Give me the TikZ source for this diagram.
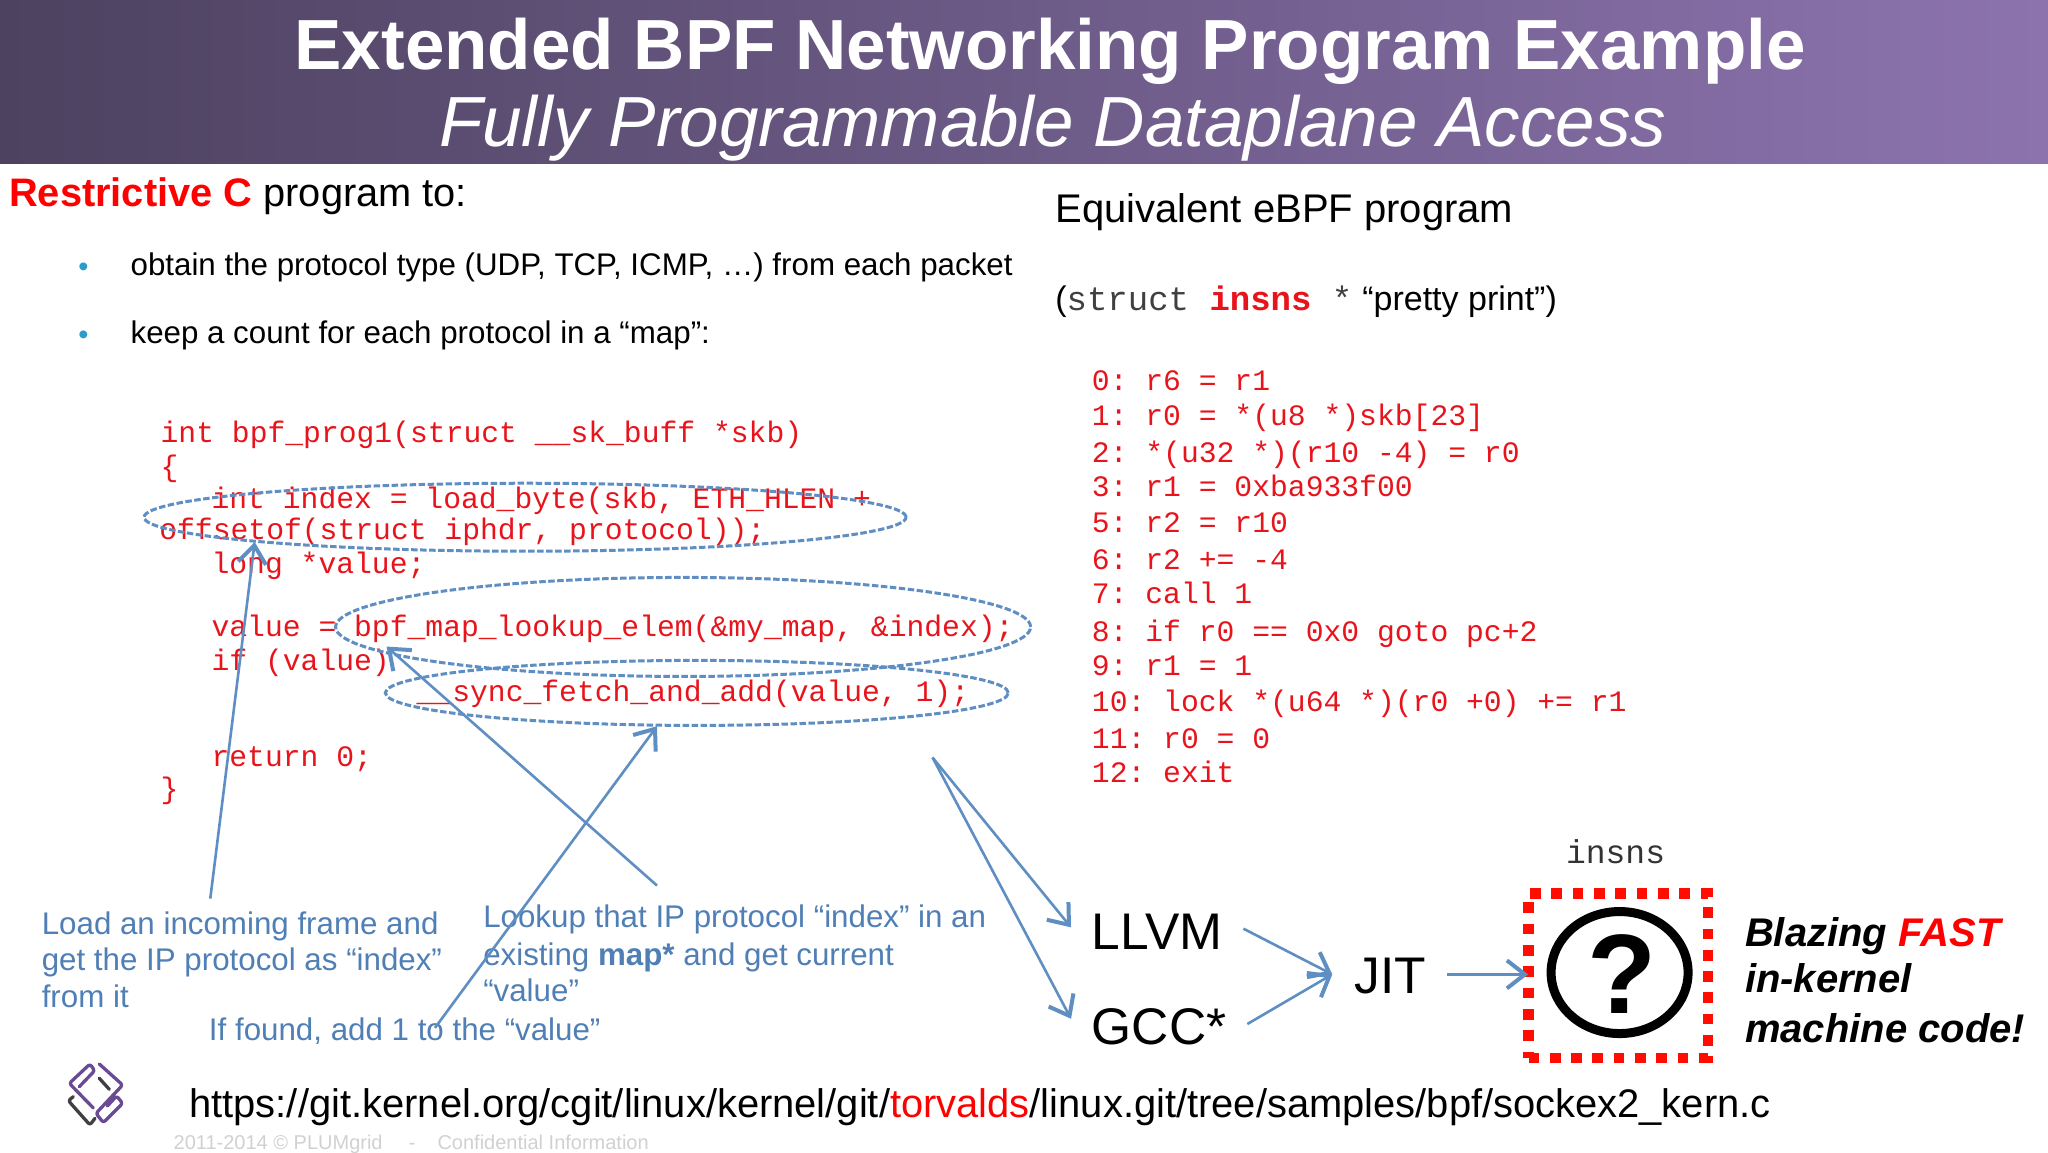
\documentclass[tikz,border=0pt]{standalone}
\usepackage{fontspec}
\setmainfont{Liberation Sans}
\newfontfamily\mono{Liberation Mono}
\usetikzlibrary{arrows.meta,shapes.geometric}
\definecolor{codered}{HTML}{E8141C}
\definecolor{noteblue}{HTML}{4F7FB5}
\definecolor{arrowblue}{HTML}{5E8EC2}
\definecolor{hdl}{HTML}{4D4260}
\definecolor{hdr}{HTML}{8C73AE}
\definecolor{logop}{HTML}{6B4A94}
\definecolor{bullet}{HTML}{2E9CCA}
\newcommand{\fs}[1]{\fontsize{#1}{#1}\selectfont\frenchspacing}
\tikzset{
  x=1.30612pt,y=-1.30612pt,
  txt/.style={anchor=base west,inner sep=0pt,outer sep=0pt},
  title/.style={anchor=base,inner sep=0pt,text=white,font=\fs{71}\bfseries},
  subtitle/.style={anchor=base,inner sep=0pt,text=white,font=\fs{71}\itshape},
  body/.style={txt,font=\fs{31.3}},
  code/.style={txt,text=codered,font=\fs{29.7}\mono},
  note/.style={txt,text=noteblue,font=\fs{31.3}},
  big/.style={txt,font=\fs{51.5}},
  blaze/.style={txt,font=\fs{40}\bfseries\itshape},
  ell/.style={ellipse,draw=arrowblue,line width=3pt,dash pattern=on 6.5pt off 2.5pt,inner sep=0pt},
  conn/.style={draw=arrowblue,line width=2.6pt,-{Straight Barb[length=18pt,width=28pt,line width=4pt]}},
  logoline/.style={line width=3.3pt,line cap=round,line join=round,rounded corners=2.5pt},
}
\begin{document}
\begin{tikzpicture}
\useasboundingbox (0,0) rectangle (1568,882);
\fill[white] (0,0) rectangle (1568,882);
\shade[left color=hdl,right color=hdr,middle color=hdl!50!hdr] (0,0) rectangle (1568,125);
\node[title] (t1) at (804,53.5) {Extended BPF Networking Program Example};
\node[subtitle] (t2) at (806,112) {Fully Programmable Dataplane Access};
\node[txt,font=\fs{39.8}] (h1) at (7,158) {\textcolor{red}{\textbf{Restrictive C}} program to:};
\node[txt,text=bullet,font=\fs{29}] (b1) at (60,212) {•};
\node[body] (l1) at (100,211) {obtain the protocol type (UDP, TCP, ICMP, …) from each packet};
\node[txt,text=bullet,font=\fs{29}] (b2) at (60,264) {•};
\node[body] (l2) at (100,263) {keep a count for each protocol in a “map”:};
\node[txt,font=\fs{40}] (h2) at (808,170) {Equivalent eBPF program};
\node[txt,font=\fs{34}] (h3) at (808,238) {({\mono\color{black!75}struct }{\mono\bfseries\color{codered}insns}{\mono\color{black!75}\ *}\hspace{10pt}“pretty print”)};
% left code
\node[code] (c1) at (123,339) {int bpf\_prog1(struct \_\_sk\_buff *skb)};
\node[code] (c2) at (123,365) {\{};
\node[code] (c3) at (162,389) {int index = load\_byte(skb, ETH\_HLEN +};
\node[code] (c4) at (122,413) {offsetof(struct iphdr, protocol));};
\node[code] (c5) at (162,439) {long *value;};
\node[code] (c6) at (162,487) {value = bpf\_map\_lookup\_elem(\&my\_map, \&index);};
\node[code] (c7) at (162,513) {if (value)};
\node[code] (c8) at (319,537) {\_\_sync\_fetch\_and\_add(value, 1);};
\node[code] (c9) at (162,587) {return 0;};
\node[code] (c10) at (123,611) {\}};
% right code
\node[code] (r0) at (836,299) {0: r6 = r1};
\node[code] (r1) at (836,326) {1: r0 = *(u8 *)skb[23]};
\node[code] (r2) at (836,354) {2: *(u32 *)(r10 -4) = r0};
\node[code] (r3) at (836,380) {3: r1 = 0xba933f00};
\node[code] (r5) at (836,408) {5: r2 = r10};
\node[code] (r6) at (836,436) {6: r2 += -4};
\node[code] (r7) at (836,462) {7: call 1};
\node[code] (r8) at (836,491) {8: if r0 == 0x0 goto pc+2};
\node[code] (r9) at (836,517) {9: r1 = 1};
\node[code] (r10) at (836,545) {10: lock *(u64 *)(r0 +0) += r1};
\node[code] (r11) at (836,573) {11: r0 = 0};
\node[code] (r12) at (836,599) {12: exit};
% ellipses
\node[ell,minimum width=762pt,minimum height=68pt] (e1) at (402,396) {};
\node[ell,minimum width=695pt,minimum height=99pt] (e2) at (523,480) {};
\node[ell,minimum width=623pt,minimum height=65pt] (e3) at (533.5,530.5) {};
% notes
\node[note] (n1a) at (32,715.2) {Load an incoming frame and};
\node[note] (n1b) at (32,743.2) {get the IP protocol as “index”};
\node[note] (n1c) at (32,771.2) {from it};
\node[note] (n2a) at (370,710.2) {Lookup that IP protocol “index” in an};
\node[note] (n2b) at (370,739) {existing \textbf{map*} and get current};
\node[note] (n2c) at (370,767) {“value”};
\node[note] (n3) at (160,797) {If found, add 1 to the “value”};
% pipeline
\node[big] (llvm) at (836,727) {LLVM};
\node[big] (gcc) at (836,799.5) {GCC*};
\node[big] (jit) at (1037,761) {JIT};
\node[txt,text=black!80,font=\fs{33}\mono] (ins) at (1199,661) {insns};
\node[draw=red!90!orange,line width=10.6pt,dash pattern=on 10.7pt off 10.6pt,minimum width=179.5pt,minimum height=164.5pt,inner sep=0pt] (box) at (1239,747) {};
\node[ellipse,draw=black,line width=9pt,minimum width=137pt,minimum height=122pt,inner sep=0pt] (q) at (1240,744.6) {};
\node[anchor=base,inner sep=0pt,font=\fs{113}\bfseries] (qm) at (1241.5,775.6) {?};
\node[blaze] (bz1) at (1336,725) {Blazing \textcolor{red}{FAST}};
\node[blaze] (bz2) at (1336,760) {in-kernel};
\node[blaze] (bz3) at (1336,798) {machine code!};
\node[txt,font=\fs{39.9}] (url) at (145,855.5) {https://git.kernel.org/cgit/linux/kernel/git/\textcolor{red}{torvalds}/linux.git/tree/samples/bpf/sockex2\_kern.c};
\node[txt,text=black!18,font=\fs{20}] (f1) at (133,880) {2011-2014 © PLUMgrid};
\node[txt,text=black!18,font=\fs{20}] (f2) at (313,880) {-};
\node[txt,text=black!18,font=\fs{20}] (f3) at (335,880) {Confidential Information};
% free ends
\coordinate (s1) at (161,688); \coordinate (d1) at (195,415);
\coordinate (s2) at (503,678); \coordinate (d2) at (296,495);
\coordinate (s3) at (333,787); \coordinate (d3) at (503,556);
\coordinate (s4) at (714,580); \coordinate (d4) at (820,710); \coordinate (d5) at (820,780);
\coordinate (s6) at (952,711); \coordinate (s7) at (955,784); \coordinate (d6) at (1020,746);
\coordinate (s8) at (1108,746); \coordinate (d8) at (1170,746);
\draw[conn] (s1) -- (d1);
\draw[conn] (s2) -- (d2);
\draw[conn] (s3) -- (d3);
\draw[conn] (s4) -- (d4);
\draw[conn] (s4) -- (d5);
\draw[conn] (s6) -- (d6);
\draw[conn] (s7) -- (d6);
\draw[conn] (s8) -- (d8);
% logo (coordinates in a local grid of one third of a pixel)
\begin{scope}[shift={(38.28,803.9)},x=0.3333pt,y=-0.3333pt]
\draw[logop,logoline] (88,110) -- (134,62) -- (120,42) -- (58,100) -- (130,174);
\draw[logop,logoline] (148,42) -- (218,105) -- (138,190) -- (160,218) -- (218,160) -- (200,138) -- (172,168);
\draw[black!75,logoline] (148,85) -- (178,118);
\draw[black!75,logoline] (70,140) -- (55,152) -- (120,225) -- (135,205);
\end{scope}
\end{tikzpicture}
\end{document}
